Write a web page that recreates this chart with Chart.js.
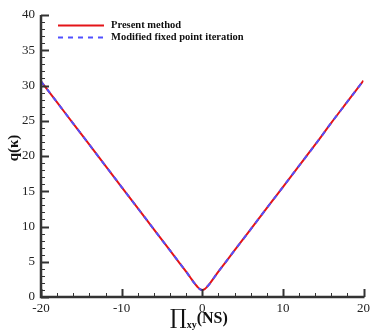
<!DOCTYPE html>
<html>
<head>
<meta charset="utf-8">
<script src="https://cdn.jsdelivr.net/npm/chart.js@4/dist/chart.umd.min.js"></script>
<style>
html,body{margin:0;padding:0;background:#fff;}
#c{display:block;}
</style>
</head>
<body>
<canvas id="c" width="374" height="332"></canvas>
<script>
const xValues = [-20, -18, -16, -14, -12, -10, -8, -6, -4, -3, -2, -1.5, -1, -0.6, -0.3, 0, 0.3, 0.6, 1, 1.5, 2, 3, 4, 6, 8, 10, 12, 14, 16, 18, 20];
const presentValues = [30.6, 27.6, 24.6, 21.6, 18.6, 15.6, 12.6, 9.6, 6.6, 5.1, 3.6, 2.8, 2.0, 1.45, 1.12, 1.0, 1.12, 1.45, 2.0, 2.8, 3.6, 5.1, 6.6, 9.6, 12.6, 15.6, 18.6, 21.6, 24.7, 27.7, 30.7];
const modifiedValues = [30.6, 27.6, 24.6, 21.6, 18.6, 15.6, 12.6, 9.6, 6.6, 5.1, 3.6, 2.8, 2.0, 1.45, 1.12, 1.0, 1.12, 1.45, 2.0, 2.8, 3.6, 5.1, 6.6, 9.6, 12.6, 15.6, 18.6, 21.6, 24.7, 27.7, 30.7];
const seriesLabels = ['Present method', 'Modified fixed point iteration'];
const xTicks = [-20, -10, 0, 10, 20];
const yTicks = [0, 5, 10, 15, 20, 25, 30, 35, 40];

const SERIF = '"Liberation Serif", "Times New Roman", serif';
const RED = 'rgb(228,20,24)';
const BLUE = 'rgb(80,80,255)';

const toPts = (ys) => xValues.map((x, i) => ({x: x, y: ys[i]}));

const decor = {
  id: 'decor',
  afterDraw(chart) {
    const ctx = chart.ctx;
    const a = chart.chartArea;
    const xs = chart.scales.x, ys = chart.scales.y;
    ctx.save();
    ctx.strokeStyle = '#333';
    for (let v = -20; v <= 20; v += 2) {
      const px = Math.round(xs.getPixelForValue(v)) + 0.5;
      const major = xTicks.includes(v);
      ctx.lineWidth = major ? 2 : 1;
      ctx.beginPath();
      ctx.moveTo(px, a.bottom);
      ctx.lineTo(px, a.bottom - (major ? 8 : 4));
      ctx.stroke();
    }
    for (let v = 0; v <= 40; v += 1) {
      const py = Math.round(ys.getPixelForValue(v)) + 0.5;
      const major = yTicks.includes(v);
      ctx.lineWidth = major ? 2 : 1;
      ctx.beginPath();
      ctx.moveTo(a.left, py);
      ctx.lineTo(a.left + (major ? 8 : 4), py);
      ctx.stroke();
    }
    ctx.lineWidth = 2.5;
    ctx.beginPath();
    ctx.moveTo(a.left, a.top);
    ctx.lineTo(a.left, a.bottom);
    ctx.lineTo(a.right + 1, a.bottom);
    ctx.stroke();

    // legend
    const ds = chart.data.datasets;
    const items = [{y: 25.5, ds: ds[0]}, {y: 37.5, ds: ds[1]}];
    ctx.font = 'bold 10.5px ' + SERIF;
    ctx.textBaseline = 'middle';
    ctx.textAlign = 'left';
    items.forEach(it => {
      ctx.strokeStyle = it.ds.borderColor;
      ctx.lineWidth = 2;
      ctx.setLineDash(it.ds.borderDash || []);
      ctx.beginPath();
      ctx.moveTo(58, it.y);
      ctx.lineTo(104, it.y);
      ctx.stroke();
      ctx.setLineDash([]);
      ctx.fillStyle = '#111';
      ctx.fillText(it.ds.label, 111, it.y);
    });

    // x title
    ctx.fillStyle = '#111';
    ctx.textBaseline = 'alphabetic';
    ctx.font = '21px "DejaVu Serif", serif';
    ctx.fillText('\u220F', 170, 324);
    let w = ctx.measureText('\u220F').width;
    ctx.font = 'bold 10px ' + SERIF;
    ctx.fillText('xy', 170 + w, 328);
    let w2 = ctx.measureText('xy').width;
    ctx.font = 'bold 16px ' + SERIF;
    ctx.fillText('(NS)', 170 + w + w2, 323);

    // y title
    ctx.save();
    ctx.translate(14, 148);
    ctx.rotate(-Math.PI / 2);
    ctx.textAlign = 'center';
    ctx.textBaseline = 'middle';
    ctx.font = 'bold 15px ' + SERIF;
    ctx.fillText('q(\u03BA)', 0, 0);
    ctx.restore();
    ctx.restore();
  }
};

new Chart(document.getElementById('c'), {
  type: 'line',
  data: {
    datasets: [
      {label: seriesLabels[0], data: toPts(presentValues), borderColor: RED, borderWidth: 2, pointRadius: 0, cubicInterpolationMode: 'monotone', fill: false, order: 2},
      {label: seriesLabels[1], data: toPts(modifiedValues), borderColor: BLUE, borderWidth: 2, borderDash: [5, 5], pointRadius: 0, cubicInterpolationMode: 'monotone', fill: false, order: 1}
    ]
  },
  options: {
    responsive: false,
    animation: false,
    layout: {padding: {left: 0, right: 7, top: 15, bottom: 0}},
    plugins: {legend: {display: false}, tooltip: {enabled: false}},
    scales: {
      x: {
        type: 'linear', min: -20, max: 20,
        afterFit(s) { s.height = 35; },
        afterBuildTicks(s) { s.ticks = xTicks.map(v => ({value: v})); },
        grid: {display: false, drawTicks: false},
        border: {display: false},
        ticks: {padding: 4, color: '#222', font: {family: SERIF, size: 13}, maxRotation: 0}
      },
      y: {
        type: 'linear', min: 0, max: 40,
        afterFit(s) { s.width = 41; },
        afterBuildTicks(s) { s.ticks = yTicks.map(v => ({value: v})); },
        grid: {display: false, drawTicks: false},
        border: {display: false},
        ticks: {padding: 6, color: '#222', font: {family: SERIF, size: 13}}
      }
    }
  },
  plugins: [decor]
});
</script>
</body>
</html>
